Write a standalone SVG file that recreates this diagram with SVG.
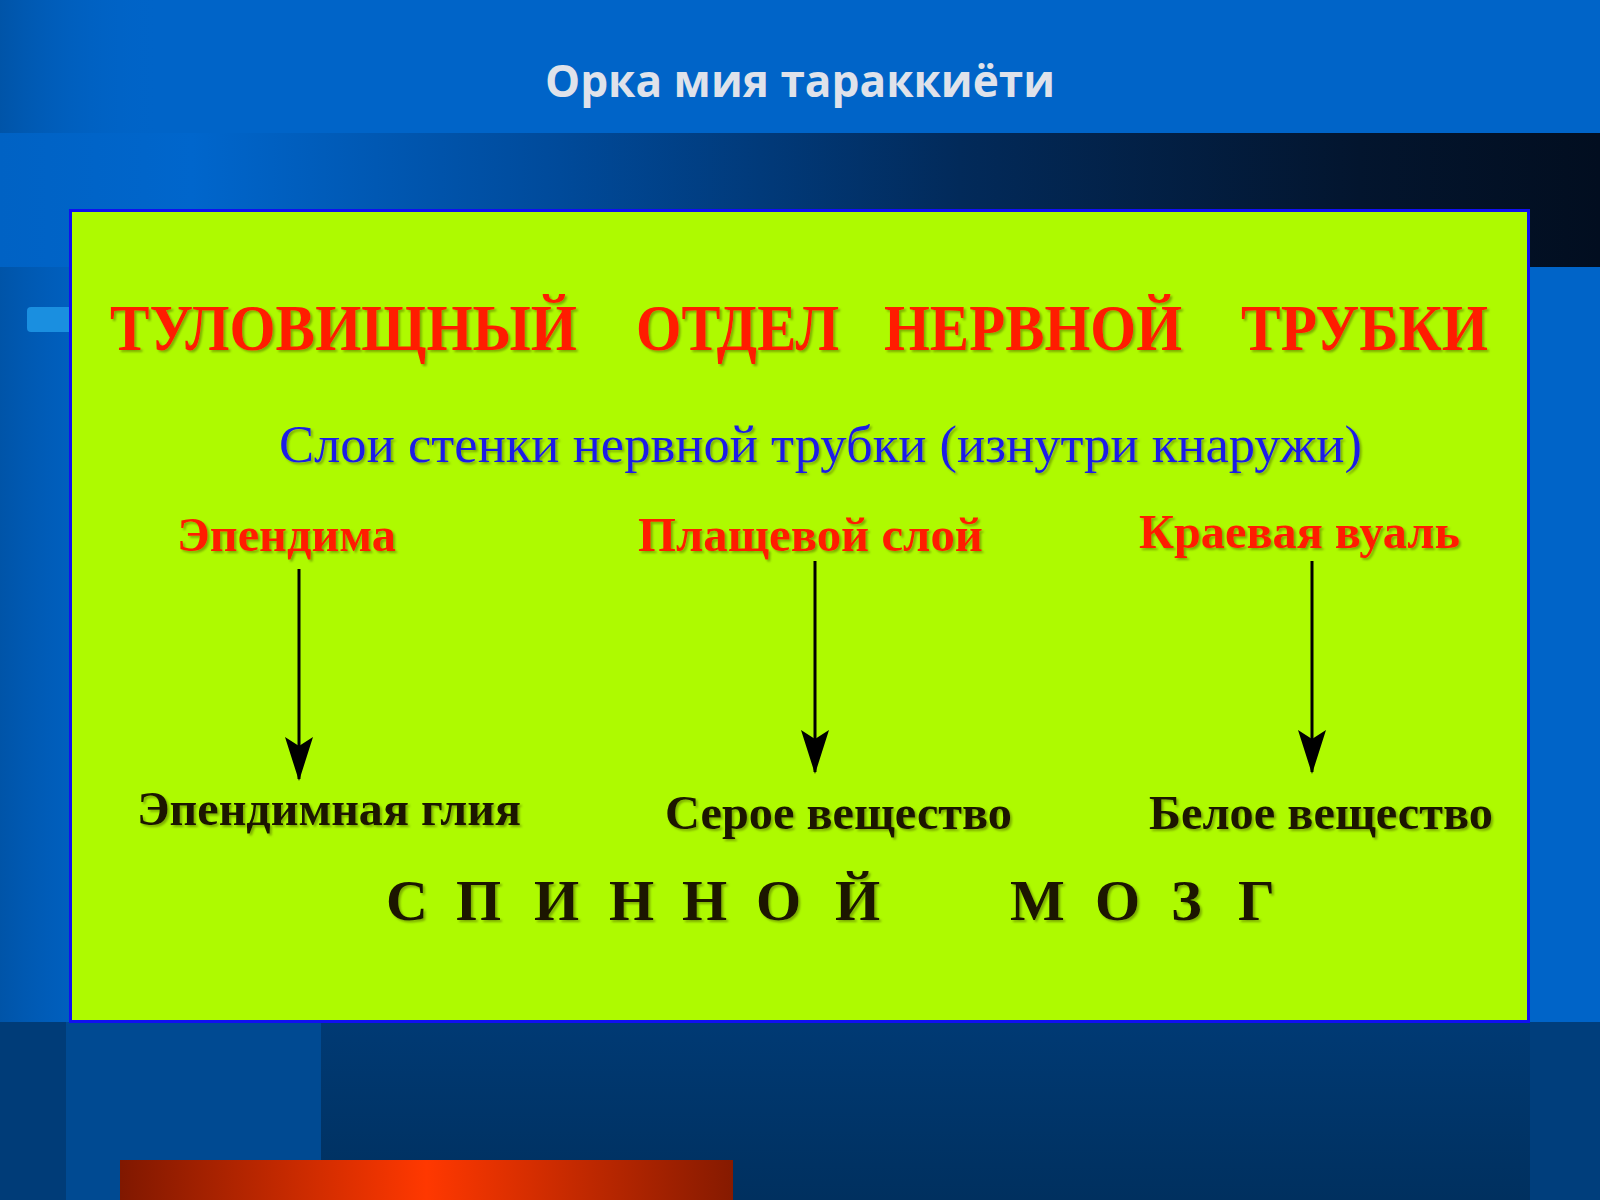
<svg xmlns="http://www.w3.org/2000/svg" width="1600" height="1200" viewBox="0 0 1600 1200">
<defs>
<style>
.red{font-family:"Liberation Serif","Times New Roman",serif;font-weight:bold;fill:#ff1a00;filter:url(#sh)}
.blk{font-family:"Liberation Serif","Times New Roman",serif;font-weight:bold;fill:#1a1400;filter:url(#sh)}
.blue{font-family:"Liberation Serif","Times New Roman",serif;fill:#1c1ce6;filter:url(#sh)}
.ttl{font-family:"Open Sans","DejaVu Sans",sans-serif;font-weight:bold;fill:#dfe2ea}
.arrow{stroke:#000;stroke-width:3;fill:none;marker-end:url(#ah)}
</style>
<filter id="sh" x="-5%" y="-20%" width="110%" height="140%">
<feDropShadow dx="2" dy="2" stdDeviation="1.2" flood-color="#5a7a00" flood-opacity="0.6"/>
</filter>
<marker id="ah" markerUnits="userSpaceOnUse" markerWidth="44" markerHeight="30" refX="42" refY="15" orient="auto" viewBox="0 0 44 30">
<path d="M0,1 L44,15 L0,29 L9,15 Z" fill="#000"/>
</marker>
<linearGradient id="band" x1="0" y1="0" x2="1" y2="0">
<stop offset="0" stop-color="#0062c4"/>
<stop offset="0.12" stop-color="#0066cc"/>
<stop offset="0.35" stop-color="#004a9a"/>
<stop offset="0.6" stop-color="#022a5a"/>
<stop offset="0.85" stop-color="#03152e"/>
<stop offset="1" stop-color="#020e20"/>
</linearGradient>
<linearGradient id="leftg" x1="0" y1="0" x2="1" y2="0">
<stop offset="0" stop-color="#0054a8"/>
<stop offset="1" stop-color="#0064c8" stop-opacity="0"/>
</linearGradient>
<linearGradient id="bot" x1="0" y1="0" x2="0" y2="1">
<stop offset="0" stop-color="#003a74"/>
<stop offset="1" stop-color="#00305f"/>
</linearGradient>
<linearGradient id="redbar" x1="0" y1="0" x2="1" y2="0">
<stop offset="0" stop-color="#801800"/>
<stop offset="0.5" stop-color="#ff3800"/>
<stop offset="1" stop-color="#861a00"/>
</linearGradient>
</defs>
<g id="background">
<rect x="0" y="0" width="1600" height="1200" fill="#0064c8"/>
<rect x="0" y="0" width="160" height="1022" fill="url(#leftg)"/>
<rect x="0" y="133" width="1600" height="134" fill="url(#band)"/>
<rect x="0" y="1022" width="1600" height="178" fill="url(#bot)"/>
<rect x="0" y="1022" width="66" height="178" fill="#003c78"/>
<rect x="66" y="1022" width="255" height="178" fill="#004a92"/>
<rect x="1530" y="1022" width="70" height="178" fill="#003e7c"/>
<rect x="120" y="1160" width="613" height="40" fill="url(#redbar)"/>
<rect x="27" y="307" width="60" height="25" rx="4" fill="#1a8fe0"/>
</g>
<g id="title">
<text class="ttl" x="800" y="97" font-size="44" text-anchor="middle" textLength="510" lengthAdjust="spacingAndGlyphs">Орка мия тараккиёти</text>
</g>
<g id="panel">
<rect x="70.5" y="210.5" width="1458" height="811" fill="#aefa00" stroke="#1010f0" stroke-width="3"/>
</g>
<g id="heading">
<text class="red" x="110" y="350" font-size="66" textLength="467" lengthAdjust="spacingAndGlyphs">ТУЛОВИЩНЫЙ</text>
<text class="red" x="636" y="350" font-size="66" textLength="203" lengthAdjust="spacingAndGlyphs">ОТДЕЛ</text>
<text class="red" x="884" y="350" font-size="66" textLength="298" lengthAdjust="spacingAndGlyphs">НЕРВНОЙ</text>
<text class="red" x="1241" y="350" font-size="66" textLength="247" lengthAdjust="spacingAndGlyphs">ТРУБКИ</text>
</g>
<g id="subtitle">
<text class="blue" x="279" y="462" font-size="52" textLength="1083" lengthAdjust="spacingAndGlyphs">Слои стенки нервной трубки (изнутри кнаружи)</text>
</g>
<g id="node-ependyma">
<text class="red" x="177" y="551" font-size="48" textLength="219" lengthAdjust="spacingAndGlyphs">Эпендима</text>
</g>
<g id="node-mantle">
<text class="red" x="638" y="551" font-size="48" textLength="345" lengthAdjust="spacingAndGlyphs">Плащевой слой</text>
</g>
<g id="node-marginal">
<text class="red" x="1139" y="548" font-size="48" textLength="321" lengthAdjust="spacingAndGlyphs">Краевая вуаль</text>
</g>
<g id="node-glia">
<text class="blk" x="137" y="825" font-size="48" textLength="384" lengthAdjust="spacingAndGlyphs">Эпендимная глия</text>
</g>
<g id="node-grey">
<text class="blk" x="665" y="829" font-size="48" textLength="347" lengthAdjust="spacingAndGlyphs">Серое вещество</text>
</g>
<g id="node-white">
<text class="blk" x="1149" y="829" font-size="48" textLength="344" lengthAdjust="spacingAndGlyphs">Белое вещество</text>
</g>
<g id="node-spinal">
<text class="blk" y="920" font-size="58" x="386 432 456 502 534 582 609 657 682 732 756 806 835 950 1010 1062 1095 1142 1171 1214 1238">С П И Н Н О Й М О З Г</text>
</g>
<g id="connectors">
<line class="arrow" x1="299" y1="569" x2="299" y2="779"/>
<line class="arrow" x1="815" y1="561" x2="815" y2="772"/>
<line class="arrow" x1="1312" y1="561" x2="1312" y2="772"/>
</g>
</svg>
